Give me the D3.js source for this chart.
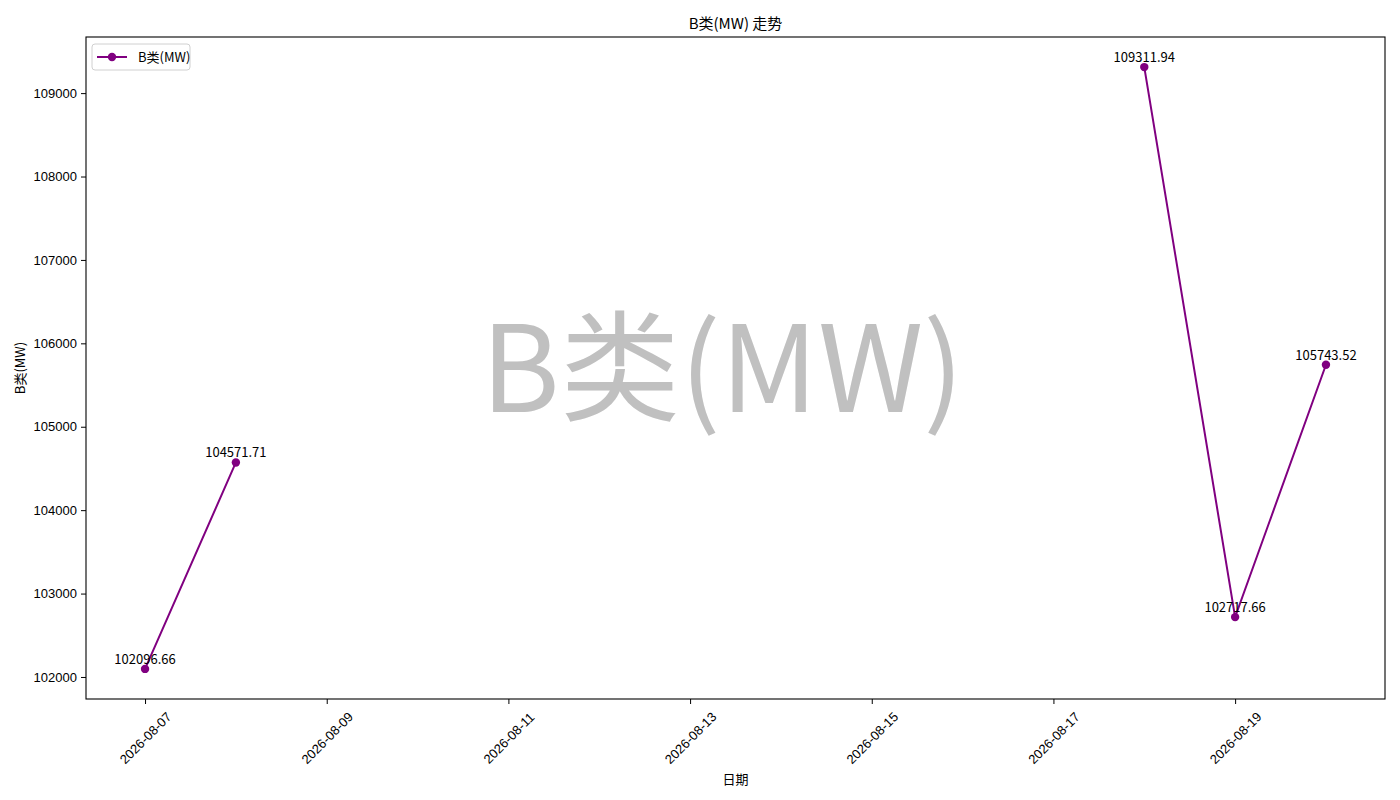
<!DOCTYPE html>
<html>
<head>
<meta charset="utf-8">
<script src="https://cdn.jsdelivr.net/npm/d3@7"></script>
<style>
  body { margin: 0; background: #fff; }
  svg { display: block; font-family: "Noto Sans CJK SC", "DejaVu Sans", sans-serif; }
</style>
</head>
<body>
<svg id="chart"></svg>
<script>
// data; null = no reading that day
let dates = ['2026-08-07', '2026-08-08', '2026-08-09', '2026-08-10', '2026-08-11', '2026-08-12',
    '2026-08-13', '2026-08-14', '2026-08-15', '2026-08-16', '2026-08-17', '2026-08-18',
    '2026-08-19', '2026-08-20']
let values = [102096.66, 104571.71, null, null, null, null, null, null, null, null, null,
    109311.94, 102717.66, 105743.52]
let xTicks = ['2026-08-07', '2026-08-09', '2026-08-11', '2026-08-13', '2026-08-15', '2026-08-17', '2026-08-19']
let yTicks = [102000, 103000, 104000, 105000, 106000, 107000, 108000, 109000]

let seriesName = 'B类(MW)'
let width = 1400
let height = 800
let plotL = 86, plotR = 1385, plotT = 37, plotB = 699
let color = '#800080'

let parse = d3.timeParse('%Y-%m-%d')
let rows = dates.map((d, i) => ({ date: parse(d), value: values[i] }))
let pts = rows.filter(r => r.value != null)

let svg = d3.select('#chart').attr('width', width).attr('height', height)

// matplotlib-style 5% margins
let x0 = d3.min(pts, r => r.date), x1 = d3.max(pts, r => r.date)
let xPad = (x1 - x0) * 0.05
let xScale = d3.scaleTime()
    .domain([new Date(+x0 - xPad), new Date(+x1 + xPad)])
    .range([plotL, plotR])

let yMin = d3.min(pts, r => r.value), yMax = d3.max(pts, r => r.value)
let yPad = (yMax - yMin) * 0.05
let yScale = d3.scaleLinear()
    .domain([yMin - yPad, yMax + yPad])
    .range([plotB, plotT])

// watermark
svg.append('text')
    .attr('x', (plotL + plotR) / 2 - 13)
    .attr('y', (plotT + plotB) / 2 - 8)
    .attr('text-anchor', 'middle')
    .attr('dominant-baseline', 'central')
    .attr('font-size', 120)
    .attr('fill', '#c0c0c0')
    .text(seriesName)

// axes
let xAxis = d3.axisBottom(xScale)
    .tickValues(xTicks.map(parse))
    .tickFormat(d3.timeFormat('%Y-%m-%d'))
    .tickSize(5)
    .tickPadding(4)
let gx = svg.append('g')
    .attr('transform', 'translate(0,' + plotB + ')')
    .call(xAxis)
gx.select('.domain').remove()
gx.selectAll('text')
    .attr('font-size', 13)
    .attr('fill', '#000')
    .attr('text-anchor', 'middle')
    .attr('y', 0)
    .attr('dy', '0.35em')
    .attr('transform', 'translate(0,39) rotate(-45)')

let yAxis = d3.axisLeft(yScale)
    .tickValues(yTicks)
    .tickFormat(d3.format('d'))
    .tickSize(5)
    .tickPadding(4)
let gy = svg.append('g')
    .attr('transform', 'translate(' + plotL + ',0)')
    .call(yAxis)
gy.select('.domain').remove()
gy.selectAll('text').attr('font-size', 13).attr('fill', '#000')

svg.selectAll('.tick line').attr('stroke', '#000').attr('stroke-width', 1)

svg.append('rect')
    .attr('x', plotL).attr('y', plotT)
    .attr('width', plotR - plotL).attr('height', plotB - plotT)
    .attr('fill', 'none').attr('stroke', '#000').attr('stroke-width', 1.1)

// line with gap
let line = d3.line()
    .defined(r => r.value != null)
    .x(r => xScale(r.date))
    .y(r => yScale(r.value))
svg.append('path')
    .datum(rows)
    .attr('d', line)
    .attr('fill', 'none')
    .attr('stroke', color)
    .attr('stroke-width', 2)

svg.selectAll('circle.dot')
    .data(pts)
    .enter()
    .append('circle')
    .attr('class', 'dot')
    .attr('cx', r => xScale(r.date))
    .attr('cy', r => yScale(r.value))
    .attr('r', 4.2)
    .attr('fill', color)

svg.selectAll('text.val')
    .data(pts)
    .enter()
    .append('text')
    .attr('class', 'val')
    .attr('x', r => xScale(r.date))
    .attr('y', r => yScale(r.value) - 5)
    .attr('text-anchor', 'middle')
    .attr('font-size', 13)
    .attr('fill', '#000')
    .text(r => r.value.toFixed(2))

// titles
svg.append('text')
    .attr('x', (plotL + plotR) / 2).attr('y', 29)
    .attr('text-anchor', 'middle')
    .attr('font-size', 15)
    .text(seriesName + ' 走势')

svg.append('text')
    .attr('x', (plotL + plotR) / 2).attr('y', 784)
    .attr('text-anchor', 'middle')
    .attr('font-size', 13)
    .text('日期')

svg.append('text')
    .attr('transform', 'translate(25,' + (plotT + plotB) / 2 + ') rotate(-90)')
    .attr('text-anchor', 'middle')
    .attr('font-size', 13)
    .text(seriesName)

// legend
let lg = svg.append('g').attr('transform', 'translate(92,44)')
lg.append('rect')
    .attr('width', 98).attr('height', 26).attr('rx', 3)
    .attr('fill', '#fff').attr('fill-opacity', 0.8)
    .attr('stroke', '#d0d0d0')
lg.append('line')
    .attr('x1', 5).attr('x2', 35).attr('y1', 13).attr('y2', 13)
    .attr('stroke', color).attr('stroke-width', 2)
lg.append('circle')
    .attr('cx', 20).attr('cy', 13).attr('r', 4.2).attr('fill', color)
lg.append('text')
    .attr('x', 46).attr('y', 18)
    .attr('font-size', 13)
    .text(seriesName)
</script>
</body>
</html>
